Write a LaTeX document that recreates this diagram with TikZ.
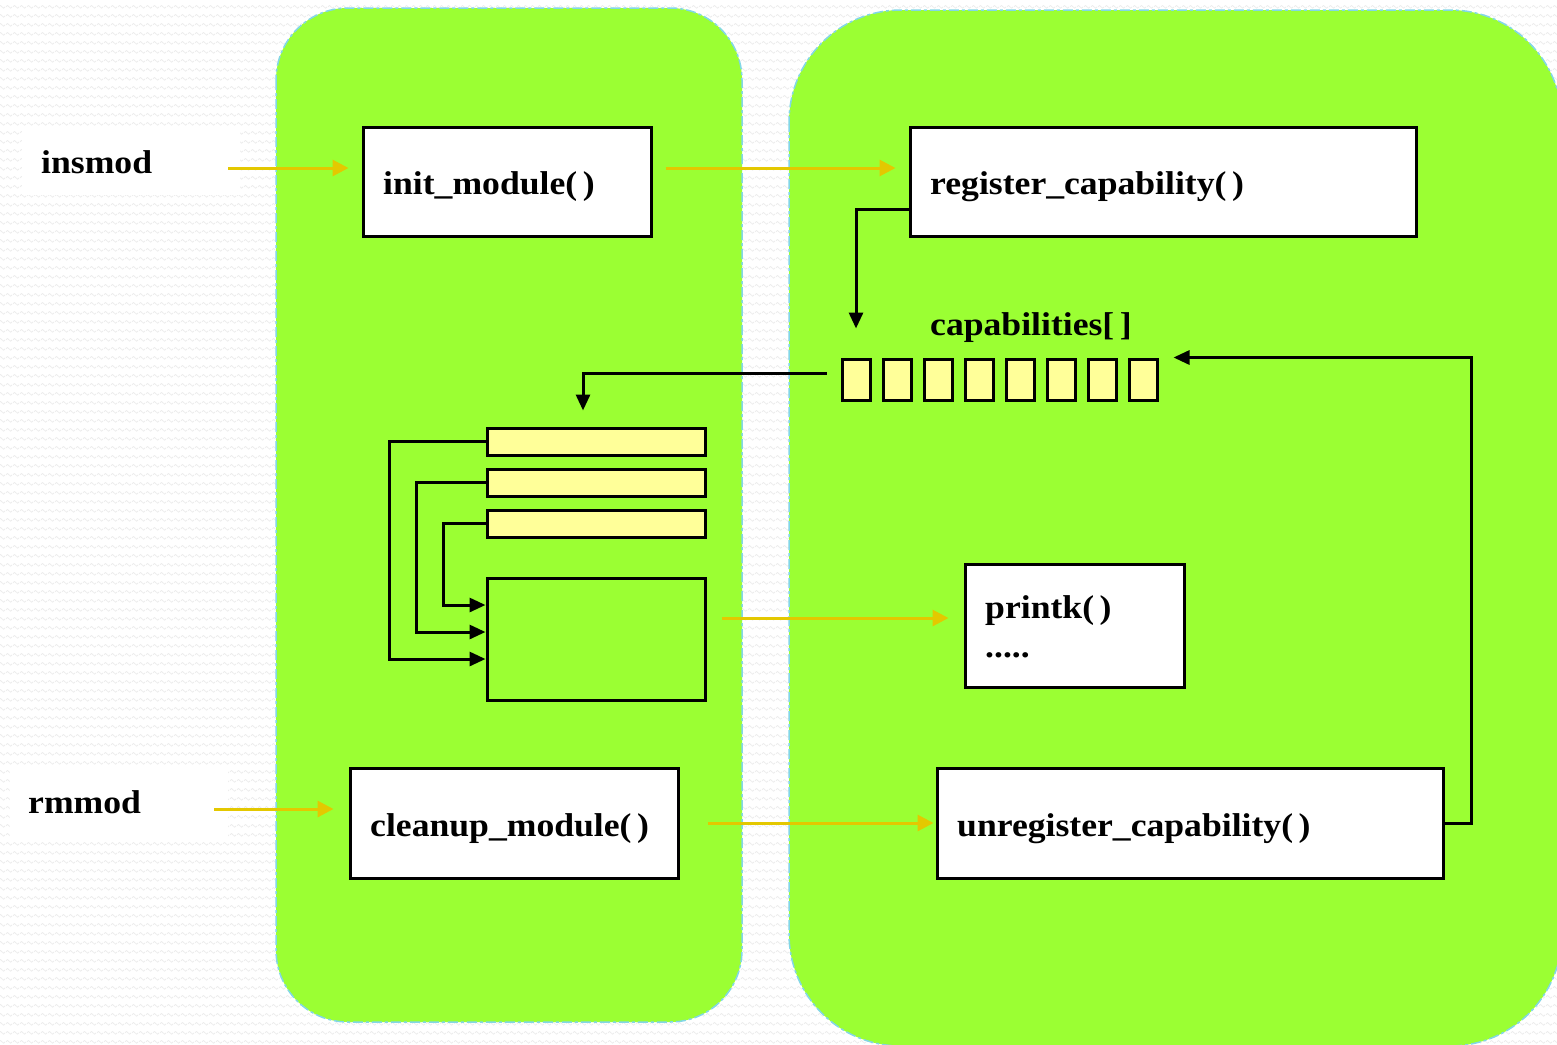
\documentclass[tikz,border=0pt]{standalone}
\usepackage{fontspec}
\setmainfont{Liberation Serif}[FakeStretch=1.08]
\usetikzlibrary{arrows.meta,patterns}
\definecolor{blockgreen}{RGB}{155,255,51}
\definecolor{dashblue}{RGB}{130,215,230}
\definecolor{arrowgold}{RGB}{228,200,0}
\definecolor{cellyellow}{RGB}{255,255,153}
\definecolor{wavegray}{RGB}{236,236,236}
\pgfdeclarepatternformonly{bgwaves}{\pgfpointorigin}{\pgfpoint{7pt}{9pt}}{\pgfpoint{7pt}{9pt}}{%
  \pgfsetlinewidth{0.8pt}%
  \pgfpathmoveto{\pgfpoint{0pt}{3.5pt}}%
  \pgfpathlineto{\pgfpoint{1.75pt}{5pt}}%
  \pgfpathlineto{\pgfpoint{5.25pt}{2pt}}%
  \pgfpathlineto{\pgfpoint{7pt}{3.5pt}}%
  \pgfusepath{stroke}}
\tikzset{
  block/.style={fill=blockgreen, draw=dashblue, line width=1.5pt, dash pattern=on 10pt off 3pt on 3pt off 3pt},
  fbox/.style={draw=black, line width=3pt, fill=white, inner sep=0pt},
  cellbox/.style={draw=black, line width=3pt, fill=cellyellow, inner sep=0pt},
  emptybox/.style={draw=black, line width=3pt, inner sep=0pt},
  labelbg/.style={fill=white, draw=none, inner sep=0pt},
  txt/.style={anchor=base west, inner sep=0pt, font=\fontsize{33}{40}\selectfont\bfseries},
  goldarrow/.style={draw=arrowgold, line width=3pt, -{Triangle[length=16pt,width=16pt]}},
  blackarrow/.style={draw=black, line width=3pt, -{Triangle[length=16pt,width=14pt]}},
}
\begin{document}
\begin{tikzpicture}[x=1pt,y=-1pt]
\useasboundingbox (0,0) rectangle (1557,1044);
\begin{scope}
\clip (0,0) rectangle (1557,1044);
\fill[white] (0,0) rectangle (1557,1044);
\fill[pattern=bgwaves, pattern color=wavegray] (0,0) rectangle (1557,1044);
% blocks
\path[block, rounded corners=72pt] (276,8) rectangle (742,1022);
\path[block, rounded corners=112pt] (789,10) rectangle (1562,1046);
\end{scope}

% white label backgrounds
\node[labelbg, minimum width=218, minimum height=67] (insbg) at (131,161.5) {};
\node[labelbg, minimum width=218, minimum height=68] (rmbg) at (119,804) {};
\node[txt] (instxt) at (41,173) {insmod};
\node[txt] (rmtxt) at (28,813) {rmmod};

% main boxes
\node[fbox, minimum width=288, minimum height=109] (init) at (507,181.5) {};
\node[fbox, minimum width=506, minimum height=109] (reg) at (1163,181.5) {};
\node[fbox, minimum width=219, minimum height=123] (printk) at (1074.5,625.5) {};
\node[fbox, minimum width=328, minimum height=110] (cleanup) at (514,823) {};
\node[fbox, minimum width=506, minimum height=110] (unreg) at (1190,823) {};

\node[txt] (inittxt) at (383,194) {init\_module(\,)};
\node[txt] (regtxt) at (930,194) {register\_capability(\,)};
\node[txt] (captxt) at (930,335) {capabilities[\,]};
\node[txt] (printktxt) at (985,618) {printk(\,)};
\node[txt] (dotstxt) at (985,657) {.....};
\node[txt] (cleantxt) at (370,836) {cleanup\_module(\,)};
\node[txt] (unregtxt) at (957,836) {unregister\_capability(\,)};

% capability cells
\foreach \i/\cx in {1/856,2/897,3/938,4/979,5/1020,6/1061,7/1102,8/1143}
  \node[cellbox, minimum width=28, minimum height=41] (c\i) at (\cx,379.5) {};

% bars and big box
\node[cellbox, minimum width=218, minimum height=27] (bar1) at (596,441.5) {};
\node[cellbox, minimum width=218, minimum height=27] (bar2) at (596,482.5) {};
\node[cellbox, minimum width=218, minimum height=27] (bar3) at (596,523.5) {};
\node[emptybox, minimum width=218, minimum height=122] (big) at (596,639) {};

% gold arrows
\draw[goldarrow] ([xshift=-12pt]insbg.east |- 0,168) -- ([xshift=-13pt]init.west |- 0,168);
\draw[goldarrow] ([xshift=13pt]init.east |- 0,168) -- ([xshift=-13pt]reg.west |- 0,168);
\draw[goldarrow] ([xshift=15pt]big.east |- 0,618) -- ([xshift=-15pt]printk.west |- 0,618);
\draw[goldarrow] ([xshift=-14pt]rmbg.east |- 0,809) -- ([xshift=-15pt]cleanup.west |- 0,809);
\draw[goldarrow] ([xshift=28pt]cleanup.east |- 0,823) -- ([xshift=-2pt]unreg.west |- 0,823);

% black arrows
\draw[blackarrow] (reg.west |- 0,209) -| ([yshift=29pt]c1.north);
\draw[blackarrow] ([xshift=-14pt]c1.west |- 0,373) -| ([yshift=16pt]bar1.north -| 583,0);
\draw[blackarrow] (unreg.east) -- ++(27,0) |- ([xshift=15pt]c8.north east);
\draw[blackarrow] (bar1.west) -- ++(-96,0) |- ([yshift=-20pt]big.west);
\draw[blackarrow] (bar2.west) -- ++(-69,0) |- ([yshift=7pt]big.west);
\draw[blackarrow] (bar3.west) -- ++(-42,0) |- ([yshift=34pt]big.west);
\end{tikzpicture}
\end{document}
